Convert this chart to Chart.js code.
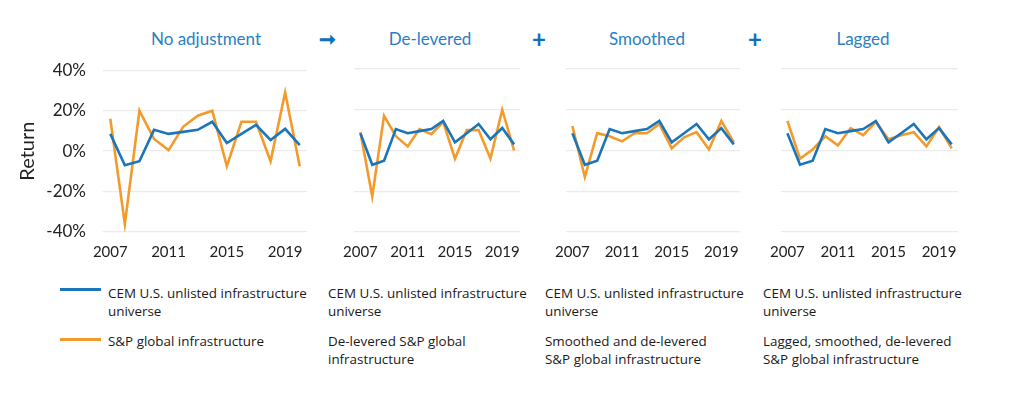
<!DOCTYPE html>
<html>
<head>
<meta charset="utf-8">
<script src="https://cdn.jsdelivr.net/npm/chart.js@4.4.1/dist/chart.umd.min.js"></script>
<style>
  html, body { margin:0; padding:0; background:#fff; }
  body { width:1024px; height:398px; position:relative; overflow:hidden; font-family: Lato, "Open Sans", sans-serif; color:#222; }
  .box { position:absolute; }
  .title { position:absolute; top:28px; font-size:17px; color:#2a80c3; transform:translateX(-50%); white-space:nowrap; }
  .op { position:absolute; top:24px; font-size:24px; font-weight:bold; color:#0f6fb9; transform:translateX(-50%); }
  .leg { position:absolute; font-family:"Open Sans", sans-serif; font-size:13.4px; line-height:18px; color:#1a1a1a; white-space:pre; }
  .swatch { position:absolute; width:41px; height:3px; }
</style>
</head>
<body>
<div class="title" style="left:206px">No adjustment</div>
<div class="op" style="left:327px;top:26px;font-size:20px">&#x279E;</div>
<div class="title" style="left:430px">De-levered</div>
<div class="op" style="left:539px">+</div>
<div class="title" style="left:647px">Smoothed</div>
<div class="op" style="left:755px">+</div>
<div class="title" style="left:863px">Lagged</div>

<div class="box" style="left:0;top:43px;width:315px;height:227px"><canvas id="c0"></canvas></div>
<div class="box" style="left:340px;top:55px;width:188px;height:215px"><canvas id="c1"></canvas></div>
<div class="box" style="left:552px;top:55px;width:196px;height:215px"><canvas id="c2"></canvas></div>
<div class="box" style="left:767px;top:55px;width:199px;height:215px"><canvas id="c3"></canvas></div>

<div id="legends"></div>

<script>
// Years and tick labels
const years = [2007,2008,2009,2010,2011,2012,2013,2014,2015,2016,2017,2018,2019,2020];
const yearTicks = [2007, 2011, 2015, 2019];
const returnTicks = [-40, -20, 0, 20, 40];

// CEM U.S. unlisted infrastructure universe (%), same in every panel
const cemUnlisted = [8.5, -7, -5, 10.5, 8.5, 9.5, 10.5, 14.5, 4, 8.5, 13, 5.5, 11, 3];

// S&P global infrastructure variants (%)
const spRaw       = [16, -36, 20, 6, 0.5, 12, 17.5, 20, -7.5, 14.5, 14.5, -5, 29, -7.5];
const spDelevered = [9, -22.5, 17, 7, 2, 10.5, 8, 14, -4, 10, 10, -4, 20, 0];
const spSmoothed  = [12, -13, 8.5, 7, 4.5, 8.5, 8.5, 13, 1, 6.5, 9, 0.5, 14.5, 4];
const spLagged    = [14.5, -4, 0.5, 7, 2.5, 11, 7.5, 14, 5.5, 7.5, 9, 2, 11.5, 1];

const panelSeries = [spRaw, spDelevered, spSmoothed, spLagged];

// Legend texts, split into lines as in the picture
const cemLabel = ['CEM U.S. unlisted infrastructure', 'universe'];
const spLabels = [
  ['S&P global infrastructure'],
  ['De-levered S&P global', 'infrastructure'],
  ['Smoothed and de-levered', 'S&P global infrastructure'],
  ['Lagged, smoothed, de-levered', 'S&P global infrastructure']
];

const BLUE = '#1b75bb', ORANGE = '#f39a2b', GRID = '#ebebeb';
const FONT = 'Lato, "Open Sans", sans-serif';

panelSeries.forEach((sp, i)=>{
  const first = i===0;
  new Chart(document.getElementById('c'+i), {
    type: 'line',
    data: {
      labels: years,
      datasets: [
        { label: cemLabel.join(' '), data: cemUnlisted, borderColor: BLUE, borderWidth: 2.6, pointRadius: 0, tension: 0 },
        { label: spLabels[i].join(' '), data: sp, borderColor: ORANGE, borderWidth: 2.6, pointRadius: 0, tension: 0 }
      ]
    },
    options: {
      responsive: true,
      maintainAspectRatio: false,
      animation: false,
      events: [],
      layout: { padding: { top: 14, right: 8, left: 0, bottom: 0 } },
      plugins: { legend: { display: false }, tooltip: { enabled: false } },
      scales: {
        x: {
          type: 'category',
          offset: true,
          grid: { display: false },
          border: { display: false },
          ticks: {
            autoSkip: false, maxRotation: 0, padding: 3,
            color: '#222', font: { family: FONT, size: 15 },
            callback: function(v){ const y = years[v]; return yearTicks.includes(y) ? String(y) : null; }
          },
          afterFit: s=>{ s.height = 38; }
        },
        y: {
          min: -40, max: 40,
          afterBuildTicks: s=>{ s.ticks = returnTicks.map(v=>({ value: v })); },
          grid: { color: GRID, lineWidth: 1.3, drawTicks: false },
          border: { display: false },
          ticks: {
            display: first, padding: 17,
            color: '#222', font: { family: FONT, size: 17 },
            callback: v=> v + '%'
          },
          title: {
            display: first, text: 'Return', color: '#222',
            font: { family: FONT, size: 20 }, padding: { top: 16, bottom: 0 }
          },
          afterFit: s=>{ s.width = first ? 103 : 0; }
        }
      }
    }
  });
});

// Legends under each panel (HTML text)
const esc = s=> s.replace(/&/g,'&amp;');
const legendX = [108, 328, 545, 763];
const leg = document.getElementById('legends');
legendX.forEach((x, i)=>{
  leg.insertAdjacentHTML('beforeend',
    `<div class="leg" style="left:${x}px;top:284px">${cemLabel.map(esc).join('<br>')}</div>` +
    `<div class="leg" style="left:${x}px;top:332px">${spLabels[i].map(esc).join('<br>')}</div>`);
});
leg.insertAdjacentHTML('beforeend',
  `<div class="swatch" style="left:60px;top:288px;background:${BLUE}"></div>` +
  `<div class="swatch" style="left:60px;top:338px;background:${ORANGE}"></div>`);
</script>
</body>
</html>
